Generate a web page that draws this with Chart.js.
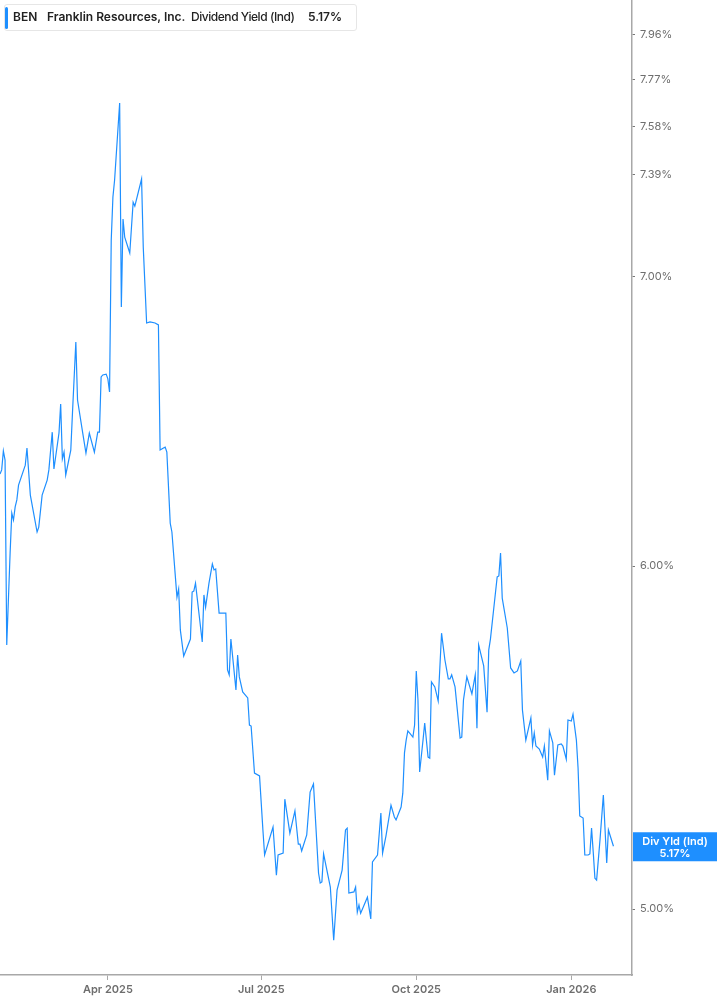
<!DOCTYPE html>
<html>
<head>
<meta charset="utf-8">
<script src="https://cdn.jsdelivr.net/npm/chart.js@4/dist/chart.umd.min.js"></script>
<style>
  html, body { margin: 0; padding: 0; background: #fff; }
  #wrap { position: relative; width: 717px; height: 1005px; }
  #legend {
    position: absolute; left: 4px; top: 4px; height: 27px; width: 353px;
    box-sizing: border-box; border: 1px solid #e6e6e6; border-radius: 3px;
    background: #fff; font-family: Inter, "Noto Sans", sans-serif;
    font-size: 12px; font-weight: 600; color: #222; line-height: 24px;
    white-space: nowrap;
  }
  #legend .bar { position: absolute; left: 0; top: 2px; width: 3px; height: 22px; background: #1e8fff; border-radius: 2px; }
  #legend span { position: absolute; top: 0; }
  #legend .field { font-weight: 500; letter-spacing: -0.45px; }
</style>
</head>
<body>
<div id="wrap">
  <canvas id="chart" width="717" height="1005"></canvas>
  <div id="legend">
    <div class="bar"></div>
    <span style="left:8px">BEN</span>
    <span style="left:42px">Franklin Resources, Inc.</span>
    <span class="field" style="left:186px">Dividend Yield (Ind)</span>
    <span style="left:303px">5.17%</span>
  </div>
</div>
<script>
// days since 2025-01-27
const days = [
  0, 1, 2, 3, 4, 6, 7, 8, 9, 10, 11, 15, 16, 18, 22, 23, 25, 28, 29, 31,
  32, 35, 36, 37, 38, 39, 42, 43, 45, 46, 49, 51, 53, 56, 58, 59, 60, 61, 63, 64,
  65, 66, 67, 68, 71, 72, 73, 74, 77, 79, 80, 84, 85, 87, 89, 92, 94, 95, 97, 98,
  99, 101, 102, 105, 106, 107, 109, 113, 114, 115, 116, 120, 121, 122, 124, 126, 127, 128, 130, 134,
  135, 136, 137, 140, 141, 142, 144, 147, 148, 149, 151, 154, 156, 157, 162, 164, 165, 168, 169, 172,
  175, 177, 178, 179, 182, 184, 186, 189, 190, 191, 192, 196, 198, 200, 203, 205, 206, 207, 210, 211,
  212, 213, 214, 218, 220, 221, 224, 226, 227, 229, 232, 234, 235, 238, 239, 240, 241, 242, 245, 246,
  247, 248, 249, 251, 252, 254, 255, 256, 258, 260, 262, 264, 266, 267, 268, 270, 273, 274, 275, 277,
  280, 282, 283, 284, 287, 289, 290, 291, 293, 295, 296, 297, 298, 301, 303, 305, 307, 309, 310, 312,
  315, 316, 317, 318, 320, 322, 323, 325, 326, 328, 329, 331, 333, 334, 336, 337, 339, 340, 342, 343,
  344, 346, 347, 349, 350, 351, 352, 353, 354, 356, 358, 360, 361, 364
];

const yields = [
  6.301, 6.315, 6.379, 6.348, 5.754, 6.042, 6.172, 6.149, 6.192, 6.215, 6.264, 6.331, 6.389, 6.231, 6.110, 6.126, 6.231, 6.281, 6.315, 6.443,
  6.318, 6.440, 6.540, 6.352, 6.375, 6.298, 6.382, 6.509, 6.759, 6.554, 6.443, 6.372, 6.440, 6.375, 6.443, 6.443, 6.635, 6.642, 6.645, 6.628,
  6.582, 7.136, 7.301, 7.367, 7.675, 6.886, 7.216, 7.147, 7.087, 7.281, 7.266, 7.371, 7.109, 6.828, 6.832, 6.828, 6.821, 6.382, 6.389, 6.392,
  6.375, 6.139, 6.110, 5.902, 5.928, 5.800, 5.720, 5.772, 5.918, 5.921, 5.946, 5.763, 5.909, 5.871, 5.946, 6.007, 5.988, 5.991, 5.852, 5.852,
  5.678, 5.663, 5.772, 5.618, 5.723, 5.657, 5.612, 5.594, 5.514, 5.511, 5.375, 5.367, 5.215, 5.146, 5.223, 5.091, 5.146, 5.151, 5.301, 5.206,
  5.268, 5.176, 5.176, 5.157, 5.201, 5.321, 5.344, 5.097, 5.070, 5.073, 5.149, 5.059, 4.918, 5.051, 5.105, 5.215, 5.220, 5.043, 5.046, 5.059,
  4.992, 5.011, 4.989, 5.032, 4.974, 5.127, 5.146, 5.262, 5.151, 5.198, 5.284, 5.251, 5.243, 5.279, 5.318, 5.433, 5.470, 5.497, 5.479, 5.514,
  5.675, 5.588, 5.378, 5.470, 5.520, 5.421, 5.418, 5.642, 5.627, 5.585, 5.790, 5.708, 5.651, 5.651, 5.663, 5.627, 5.476, 5.479, 5.588, 5.657,
  5.606, 5.663, 5.505, 5.754, 5.690, 5.552, 5.738, 5.772, 5.868, 5.966, 5.969, 6.042, 5.899, 5.806, 5.684, 5.669, 5.675, 5.705, 5.558, 5.470,
  5.535, 5.456, 5.491, 5.453, 5.444, 5.421, 5.453, 5.355, 5.497, 5.462, 5.369, 5.456, 5.459, 5.453, 5.415, 5.529, 5.526, 5.546, 5.470, 5.389,
  5.254, 5.248, 5.146, 5.146, 5.149, 5.220, 5.154, 5.083, 5.078, 5.187, 5.313, 5.124, 5.215, 5.17
];

const xTickDays = [64, 155, 247, 339];
const xTickLabels = ['Apr 2025', 'Jul 2025', 'Oct 2025', 'Jan 2026'];
const yTickValues = [5.00, 6.00, 7.00, 7.39, 7.58, 7.77, 7.96];

const xRange = [0, 375];
const yRange = [4.828, 8.107];

const lastLabel = ['Div Yld (Ind)', '5.17%'];
const lineColor = '#1e8fff';
const axisColor = '#a8a8a8';
const textColor = '#6e6e6e';

// blue tag showing the latest value on the y axis
const lastValueTag = {
  id: 'lastValueTag',
  afterDraw(chart) {
    const { ctx } = chart;
    const y = chart.scales.y.getPixelForValue(yields[yields.length - 1]);
    const x0 = chart.chartArea.right + 1;
    ctx.save();
    ctx.fillStyle = lineColor;
    ctx.fillRect(x0, y - 14, chart.width - x0, 29);
    ctx.fillStyle = '#fff';
    ctx.font = '600 11px Inter, "Noto Sans", sans-serif';
    ctx.textAlign = 'center';
    ctx.textBaseline = 'middle';
    const cx = x0 + (chart.width - x0) / 2;
    ctx.fillText(lastLabel[0], cx, y - 5);
    ctx.fillText(lastLabel[1], cx, y + 7);
    ctx.restore();
  }
};

// drop the padding chart.js reserves for the outer tick labels
function noPad(scale) {
  scale.paddingTop = 0;
  scale.paddingBottom = 0;
  scale.paddingLeft = 0;
  scale.paddingRight = 0;
}

new Chart(document.getElementById('chart'), {
  type: 'line',
  data: {
    datasets: [{
      data: days.map((d, i) => ({ x: d, y: yields[i] })),
      borderColor: lineColor,
      borderWidth: 1.2,
      pointRadius: 0,
      tension: 0,
      fill: false
    }]
  },
  options: {
    responsive: false,
    animation: false,
    layout: { padding: 0 },
    plugins: { legend: { display: false }, tooltip: { enabled: false } },
    scales: {
      x: {
        type: 'linear',
        bounds: 'data',
        min: xRange[0],
        max: xRange[1],
        afterBuildTicks(scale) {
          scale.ticks = xTickDays.map(v => ({ value: v }));
          scale.min = xRange[0];
          scale.max = xRange[1];
        },
        afterFit(scale) { scale.height = 30; noPad(scale); },
        grid: { drawOnChartArea: false, drawTicks: true, tickLength: 5, tickColor: axisColor },
        border: { display: true, color: axisColor, width: 1.5 },
        ticks: {
          autoSkip: false,
          maxRotation: 0,
          padding: 3,
          color: textColor,
          font: { family: 'Inter, "Noto Sans", sans-serif', size: 11, weight: '600' },
          callback: v => xTickLabels[xTickDays.indexOf(v)]
        }
      },
      y: {
        type: 'logarithmic',
        position: 'right',
        bounds: 'data',
        min: yRange[0],
        max: yRange[1],
        afterBuildTicks(scale) {
          scale.ticks = yTickValues.map(v => ({ value: v }));
          scale.min = yRange[0];
          scale.max = yRange[1];
        },
        afterFit(scale) { scale.width = 85; noPad(scale); },
        grid: { drawOnChartArea: false, drawTicks: true, tickLength: 3, tickColor: '#777' },
        border: { display: true, color: axisColor, width: 1.5 },
        ticks: {
          autoSkip: false,
          padding: 5,
          color: textColor,
          font: { family: 'Inter, "Noto Sans", sans-serif', size: 11 },
          callback: v => v.toFixed(2) + '%'
        }
      }
    }
  },
  plugins: [lastValueTag]
});
</script>
</body>
</html>
